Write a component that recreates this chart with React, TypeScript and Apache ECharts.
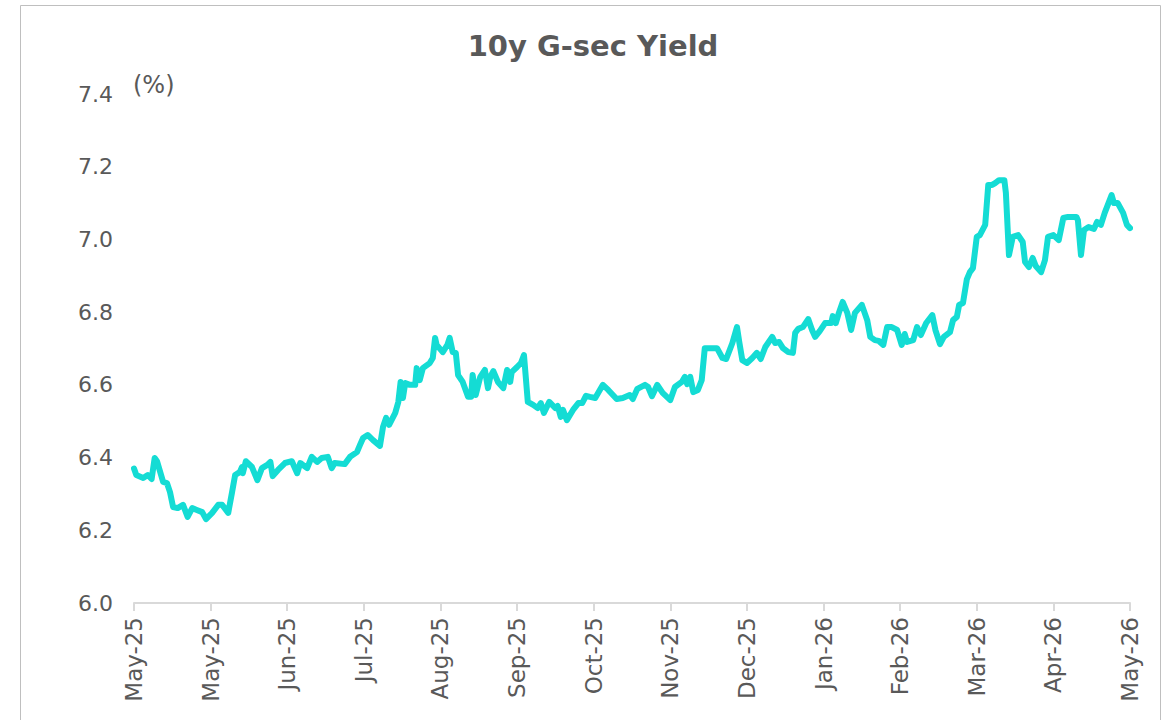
import React, { useEffect, useRef } from "react";
import * as echarts from "echarts";

// Tick labels along the x axis (one per month position)
const tickLabels = [
  "May-25", "May-25", "Jun-25", "Jul-25", "Aug-25", "Sep-25", "Oct-25",
  "Nov-25", "Dec-25", "Jan-26", "Feb-26", "Mar-26", "Apr-26", "May-26",
];

// Position of each observation, in months from the first tick
const monthPos = [
  0.00, 0.03, 0.12, 0.18, 0.23, 0.27, 0.30, 0.38, 0.43, 0.47, 0.51, 0.57, 0.64, 0.70, 0.76, 0.82, 0.89, 0.94,
  1.02, 1.10, 1.15, 1.23, 1.28, 1.32, 1.38, 1.41, 1.42, 1.46, 1.54, 1.61, 1.67, 1.74, 1.78, 1.81, 1.88, 1.97,
  2.06, 2.13, 2.17, 2.26, 2.32, 2.39, 2.45, 2.53, 2.58, 2.62, 2.75, 2.82, 2.91, 2.95, 2.99,
  3.05, 3.12, 3.21, 3.25, 3.29, 3.33, 3.41, 3.45, 3.48, 3.51, 3.54, 3.60, 3.67, 3.69, 3.73, 3.77, 3.86, 3.90, 3.93, 3.95,
  4.03, 4.09, 4.12, 4.16, 4.20, 4.23, 4.29, 4.36, 4.40, 4.42, 4.46, 4.52, 4.58, 4.62, 4.65, 4.69, 4.75, 4.82, 4.87, 4.91, 4.93,
  5.00, 5.05, 5.09, 5.14, 5.21, 5.27, 5.31, 5.35, 5.42, 5.50, 5.53, 5.57, 5.60, 5.65, 5.73, 5.80, 5.85, 5.90, 5.95,
  6.02, 6.12, 6.19, 6.30, 6.38, 6.47, 6.51, 6.57, 6.67, 6.71, 6.76, 6.83, 6.90,
  7.00, 7.06, 7.15, 7.19, 7.22, 7.26, 7.30, 7.36, 7.41, 7.45, 7.52, 7.61, 7.68, 7.73, 7.81, 7.87, 7.90, 7.94,
  8.00, 8.07, 8.13, 8.18, 8.24, 8.33, 8.37, 8.42, 8.47, 8.54, 8.60, 8.63, 8.67, 8.73, 8.80, 8.85, 8.89, 8.95,
  9.02, 9.10, 9.12, 9.16, 9.20, 9.25, 9.31, 9.36, 9.41, 9.50, 9.57, 9.61, 9.67, 9.72, 9.78, 9.83, 9.89, 9.96,
  10.02, 10.06, 10.09, 10.17, 10.22, 10.27, 10.34, 10.42, 10.46, 10.52, 10.57, 10.65, 10.69, 10.74, 10.77, 10.82, 10.87, 10.91, 10.95,
  11.00, 11.04, 11.11, 11.15, 11.20, 11.24, 11.29, 11.36, 11.38, 11.42, 11.47, 11.54, 11.60, 11.63, 11.68, 11.73, 11.77, 11.84, 11.89, 11.93,
  12.00, 12.07, 12.13, 12.19, 12.30, 12.32, 12.36, 12.40, 12.46, 12.53, 12.57, 12.62, 12.67, 12.76, 12.79, 12.84, 12.91, 12.96,
  13.00,
];

// 10y G-sec yield (%) at each observation
const yieldPct = [
  6.370, 6.352, 6.344, 6.352, 6.341, 6.399, 6.390, 6.333, 6.330, 6.305, 6.264, 6.261, 6.270, 6.237, 6.261, 6.256, 6.250, 6.231,
  6.248, 6.270, 6.270, 6.248, 6.305, 6.352, 6.360, 6.374, 6.357, 6.390, 6.374, 6.338, 6.371, 6.380, 6.388, 6.349, 6.366, 6.385,
  6.390, 6.357, 6.385, 6.371, 6.402, 6.388, 6.399, 6.402, 6.371, 6.385, 6.382, 6.402, 6.415, 6.435, 6.454,
  6.462, 6.448, 6.432, 6.484, 6.509, 6.490, 6.523, 6.553, 6.608, 6.564, 6.605, 6.600, 6.600, 6.646, 6.613, 6.646, 6.660, 6.674, 6.729, 6.710,
  6.690, 6.710, 6.729, 6.690, 6.688, 6.627, 6.608, 6.567, 6.567, 6.627, 6.572, 6.622, 6.641, 6.591, 6.622, 6.638, 6.608, 6.591, 6.641, 6.608, 6.635,
  6.649, 6.660, 6.682, 6.553, 6.545, 6.536, 6.550, 6.523, 6.553, 6.536, 6.542, 6.512, 6.531, 6.503, 6.531, 6.550, 6.550, 6.570, 6.567,
  6.564, 6.600, 6.586, 6.561, 6.564, 6.572, 6.561, 6.589, 6.600, 6.594, 6.569, 6.600, 6.578,
  6.558, 6.594, 6.608, 6.622, 6.602, 6.622, 6.580, 6.586, 6.613, 6.701, 6.701, 6.701, 6.674, 6.671, 6.715, 6.759, 6.718, 6.668,
  6.660, 6.674, 6.688, 6.671, 6.704, 6.732, 6.715, 6.718, 6.701, 6.690, 6.688, 6.743, 6.754, 6.759, 6.781, 6.751, 6.732, 6.748,
  6.770, 6.770, 6.789, 6.770, 6.798, 6.828, 6.798, 6.751, 6.798, 6.820, 6.778, 6.732, 6.723, 6.721, 6.710, 6.759, 6.759, 6.751,
  6.710, 6.740, 6.718, 6.723, 6.759, 6.737, 6.770, 6.792, 6.751, 6.712, 6.732, 6.745, 6.778, 6.787, 6.820, 6.825, 6.890, 6.910, 6.921,
  7.007, 7.012, 7.040, 7.150, 7.150, 7.155, 7.163, 7.163, 7.128, 6.957, 7.007, 7.012, 6.993, 6.938, 6.924, 6.949, 6.927, 6.910, 6.943, 7.007,
  7.012, 6.998, 7.059, 7.062, 7.062, 7.053, 6.957, 7.026, 7.034, 7.029, 7.048, 7.040, 7.073, 7.122, 7.100, 7.100, 7.073, 7.040,
  7.031,
];

const yTicks = { min: 6.0, max: 7.4, step: 0.2 };

const TEXT = "#595959";
const FONT = "'DejaVu Sans', sans-serif";

export default function App() {
  const ref = useRef<HTMLDivElement>(null);

  useEffect(() => {
    document.body.style.margin = "0";
    if (!ref.current) return;
    const chart = echarts.init(ref.current, undefined, { renderer: "svg" });
    const data = monthPos.map((m, i) => [m, yieldPct[i]]);
    chart.setOption({
      animation: false,
      backgroundColor: "#ffffff",
      textStyle: { fontFamily: FONT },
      title: {
        text: "10y G-sec Yield",
        left: 588,
        textAlign: "center",
        top: 26,
        textStyle: { fontSize: 29, fontWeight: "bold", color: TEXT, fontFamily: FONT },
      },
      graphic: [
        {
          type: "rect",
          shape: { x: 20.5, y: 5.5, width: 1140, height: 740 },
          style: { fill: "none", stroke: "#BFBFBF", lineWidth: 1 },
          silent: true,
        },
        {
          type: "text",
          x: 133,
          y: 85,
          style: {
            text: "(%)",
            fontSize: 24,
            fill: TEXT,
            fontFamily: FONT,
            verticalAlign: "middle",
            textAlign: "left",
          },
        },
      ],
      grid: { left: 134, right: 43, top: 94, bottom: 117, containLabel: false },
      xAxis: {
        type: "value",
        min: 0,
        max: tickLabels.length - 1,
        interval: 1,
        axisLine: { show: true, lineStyle: { color: "#D9D9D9", width: 2 } },
        axisTick: { show: true, length: 8, lineStyle: { color: "#D9D9D9", width: 2 } },
        splitLine: { show: false },
        axisLabel: {
          rotate: 90,
          margin: 14,
          fontSize: 23,
          color: TEXT,
          fontFamily: FONT,
          showMinLabel: true,
          showMaxLabel: true,
          formatter: (v: number) => tickLabels[Math.round(v)] ?? "",
        },
      },
      yAxis: {
        type: "value",
        min: yTicks.min,
        max: yTicks.max,
        interval: yTicks.step,
        axisLine: { show: false },
        axisTick: { show: false },
        splitLine: { show: false },
        axisLabel: {
          margin: 21,
          fontSize: 22,
          color: TEXT,
          fontFamily: FONT,
          formatter: (v: number) => v.toFixed(1),
        },
      },
      series: [
        {
          type: "line",
          data,
          showSymbol: false,
          symbol: "none",
          smooth: false,
          lineStyle: { color: "#14DCD4", width: 6, join: "round", cap: "round" },
        },
      ],
    });
    return () => chart.dispose();
  }, []);

  return <div ref={ref} style={{ width: 1173, height: 720 }} />;
}
